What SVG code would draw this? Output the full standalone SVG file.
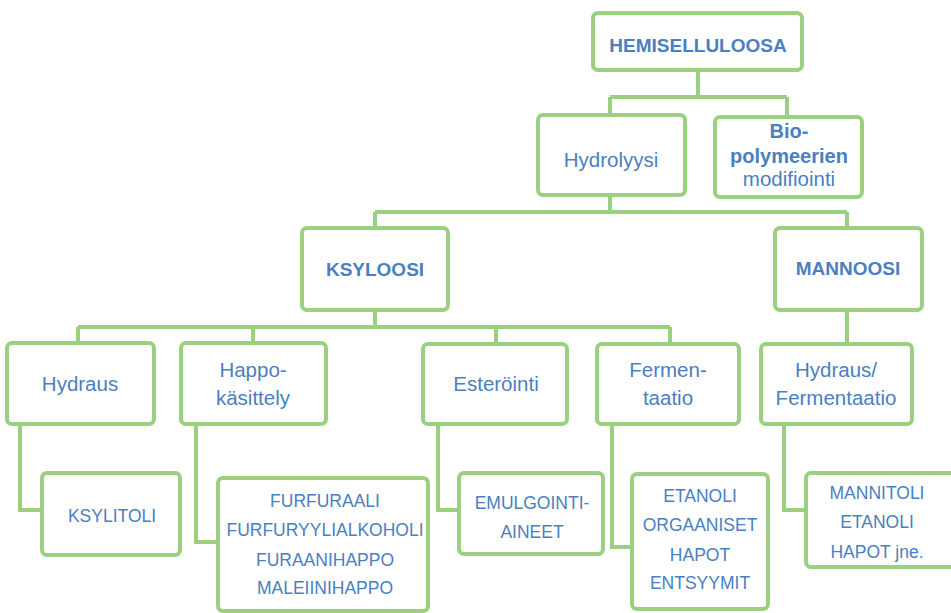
<svg xmlns="http://www.w3.org/2000/svg" width="951" height="613" viewBox="0 0 951 613">
<style>
.box{fill:#ffffff;stroke:#9AD07F;stroke-width:4}
.con{fill:none;stroke:#9AD07F;stroke-width:4}
text{font-family:"Liberation Sans",Arial,sans-serif;fill:#4A7FC1;text-anchor:middle}
.b{font-weight:bold;font-size:19px}
.r{font-size:20.5px}
.s{font-size:17.5px}
</style>
<rect width="951" height="613" fill="#ffffff"/>
<g id="connectors" class="con">
<path d="M698,70 V97 M610,97 H787 M610,97 V115 M787,97 V117"/>
<path d="M610,195 V212 M375,212 H847 M375,212 V228 M847,212 V228"/>
<path d="M375,310 V327 M78,327 H670 M78,327 V343 M253,327 V343 M496,327 V344 M670,327 V344"/>
<path d="M847,310 V344"/>
<path d="M20,424 V510 H42"/>
<path d="M196,424 V542 H218"/>
<path d="M438,424 V510 H459"/>
<path d="M612,424 V547 H632"/>
<path d="M784,424 V510 H806"/>
</g>
<g id="hemiselluloosa"><rect class="box" x="593" y="13" width="209" height="57" rx="5"/><text class="b" x="698" y="52">HEMISELLULOOSA</text></g>
<g id="hydrolyysi"><rect class="box" x="538" y="115" width="147" height="80" rx="5"/><text class="r" x="611" y="167">Hydrolyysi</text></g>
<g id="biopolymeerien"><rect class="box" x="715" y="117" width="147" height="80" rx="5"/><text class="b" x="789" y="138" style="font-size:20px">Bio-</text><text class="b" x="789" y="163" style="font-size:20px">polymeerien</text><text class="r" x="789" y="186">modifiointi</text></g>
<g id="ksyloosi"><rect class="box" x="302" y="228" width="146" height="82" rx="5"/><text class="b" x="375" y="276">KSYLOOSI</text></g>
<g id="mannoosi"><rect class="box" x="775" y="228" width="147" height="82" rx="5"/><text class="b" x="848" y="275">MANNOOSI</text></g>
<g id="hydraus"><rect class="box" x="7" y="343" width="147" height="81" rx="5"/><text class="r" x="80" y="391">Hydraus</text></g>
<g id="happokasittely"><rect class="box" x="181" y="343" width="145" height="81" rx="5"/><text class="r" x="253" y="377">Happo-</text><text class="r" x="253" y="405">käsittely</text></g>
<g id="esterointi"><rect class="box" x="423" y="344" width="144" height="80" rx="5"/><text class="r" x="496" y="391">Esteröinti</text></g>
<g id="fermentaatio"><rect class="box" x="597" y="344" width="142" height="80" rx="5"/><text class="r" x="668" y="377">Fermen-</text><text class="r" x="668" y="405">taatio</text></g>
<g id="hydraus-fermentaatio"><rect class="box" x="761" y="344" width="151" height="80" rx="5"/><text class="r" x="836" y="377">Hydraus/</text><text class="r" x="836" y="405">Fermentaatio</text></g>
<g id="ksylitoli"><rect class="box" x="42" y="473" width="138" height="82" rx="5"/><text class="s" x="112" y="522">KSYLITOLI</text></g>
<g id="furfuraali"><rect class="box" x="218" y="478" width="210" height="133" rx="5"/><text class="s" x="325" y="507">FURFURAALI</text><text class="s" x="325" y="536">FURFURYYLIALKOHOLI</text><text class="s" x="325" y="566">FURAANIHAPPO</text><text class="s" x="325" y="594">MALEIINIHAPPO</text></g>
<g id="emulgointiaineet"><rect class="box" x="459" y="473" width="144" height="81" rx="5"/><text class="s" x="532" y="509">EMULGOINTI-</text><text class="s" x="532" y="538">AINEET</text></g>
<g id="etanoli"><rect class="box" x="632" y="474" width="136" height="135" rx="5"/><text class="s" x="700" y="502">ETANOLI</text><text class="s" x="700" y="531">ORGAANISET</text><text class="s" x="700" y="561">HAPOT</text><text class="s" x="700" y="589">ENTSYYMIT</text></g>
<g id="mannitoli"><rect class="box" x="806" y="473" width="160" height="94" rx="5"/><text class="s" x="877" y="499">MANNITOLI</text><text class="s" x="877" y="528">ETANOLI</text><text class="s" x="877" y="558">HAPOT jne.</text></g>
</svg>
